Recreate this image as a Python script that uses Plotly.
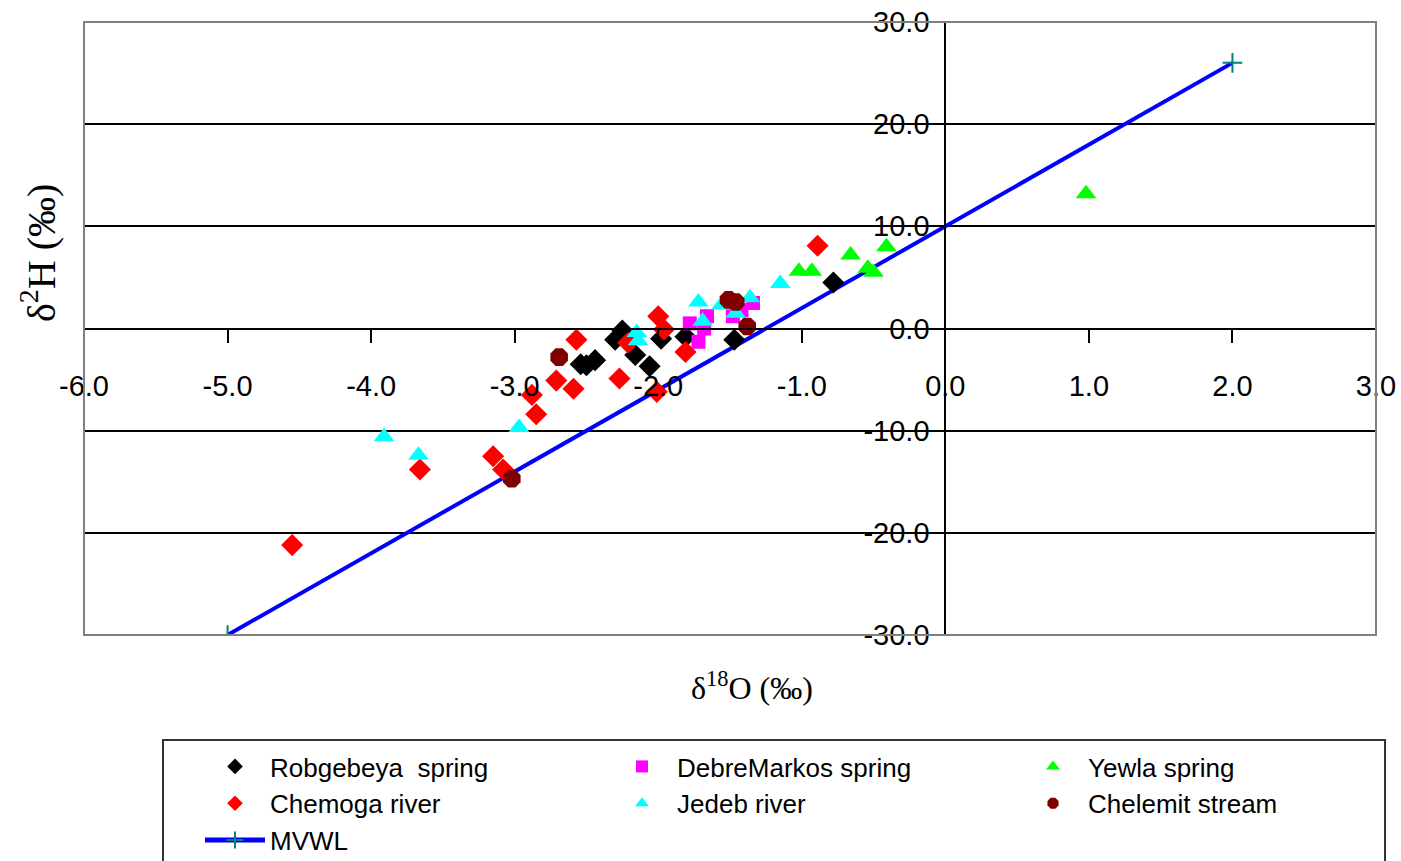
import plotly.graph_objects as go

# ---- data ----
rob_x = [-2.30, -2.25, -2.54, -2.50, -2.44, -2.16, -2.06, -1.98, -1.81, -1.47, -0.78]
rob_y = [-1.1, -0.2, -3.5, -3.6, -3.1, -2.6, -3.7, -1.0, -0.8, -1.1, 4.5]

debre_x = [-1.78, -1.66, -1.72, -1.68, -1.48, -1.42, -1.34]
debre_y = [0.5, 1.2, -1.3, 0.0, 1.2, 1.8, 2.5]

yewla_x = [-1.02, -0.93, -0.66, -0.54, -0.50, -0.41, 0.98]
yewla_y = [5.6, 5.6, 7.2, 5.9, 5.5, 8.0, 13.2]

chem_x = [-4.55, -3.66, -3.15, -3.08, -2.88, -2.85, -2.71, -2.59, -2.57, -2.27,
          -2.21, -2.01, -2.00, -1.96, -1.81, -0.89]
chem_y = [-21.2, -13.8, -12.5, -13.8, -6.5, -8.4, -5.1, -5.9, -1.1, -4.9,
          -1.4, -6.2, 1.2, -0.1, -2.3, 8.1]

jedeb_x = [-3.91, -3.67, -2.97, -2.15, -2.14, -1.72, -1.69, -1.56, -1.46, -1.36, -1.15]
jedeb_y = [-10.6, -12.4, -9.7, -0.4, -1.2, 2.6, 0.7, 2.3, 1.5, 3.0, 4.4]

chel_x = [-3.02, -2.69, -1.51, -1.46, -1.38]
chel_y = [-14.7, -2.8, 2.8, 2.6, 0.2]

mvwl_x = [-5.0, 2.0]
mvwl_y = [-30.0, 26.0]

x_ticks = [-6, -5, -4, -3, -2, -1, 0, 1, 2, 3]
x_ticklabels = ["-6.0", "-5.0", "-4.0", "-3.0", "-2.0", "-1.0", "0.0", "1.0", "2.0", "3.0"]
y_ticks = [-30, -20, -10, 0, 10, 20, 30]
y_ticklabels = ["-30.0", "-20.0", "-10.0", "0.0", "10.0", "20.0", "30.0"]

# ---- geometry helpers ----
W, H = 1401, 861
L, R, T, B = 84, 25, 22, 226
pw = W - L - R
ph = H - T - B


def px_x(p):
    return (p - L) / pw


def px_y(p):
    return (H - B - p) / ph


# ---- figure ----
fig = go.Figure()

fig.add_trace(go.Scatter(x=mvwl_x, y=mvwl_y, mode="lines+markers", name="MVWL",
                         line=dict(color="#0000ff", width=4),
                         marker=dict(symbol="cross-thin", size=14,
                                     line=dict(color="#008080", width=2)),
                         legend="legend", legendrank=3))

series = [
    ("Robgebeya\u00a0 spring", rob_x, rob_y, "diamond", "#000000", 17, "legend", 1),
    ("Chemoga river", chem_x, chem_y, "diamond", "#ff0000", 17, "legend", 2),
    ("DebreMarkos spring", debre_x, debre_y, "square", "#ff00ff", 14, "legend2", 1),
    ("Jedeb river", jedeb_x, jedeb_y, "triangle-up", "#00ffff", 18, "legend2", 2),
    ("Yewla spring", yewla_x, yewla_y, "triangle-up", "#00ff00", 18, "legend3", 1),
    ("Chelemit stream", chel_x, chel_y, "octagon", "#800000", 19, "legend3", 2),
]
for name, xs, ys, sym, col, sz, lg, rank in series:
    fig.add_trace(go.Scatter(x=xs, y=ys, mode="markers", name=name,
                             marker=dict(symbol=sym, color=col, size=sz,
                                         line=dict(width=0)),
                             legend=lg, legendrank=rank))

tick_font = dict(family="Arial, Liberation Sans, sans-serif", size=29, color="#000000")
leg_font = dict(family="Arial, Liberation Sans, sans-serif", size=26, color="#000000")


def leg(xpx):
    return dict(orientation="v", x=px_x(xpx), y=px_y(743),
                xanchor="left", yanchor="top",
                bgcolor="rgba(0,0,0,0)", borderwidth=0, itemwidth=60,
                font=leg_font, traceorder="normal", itemsizing="constant")


fig.update_layout(
    width=W, height=H,
    margin=dict(l=L, r=R, t=T, b=B, autoexpand=False),
    paper_bgcolor="white", plot_bgcolor="white",
    showlegend=True,
    xaxis=dict(range=[-6, 3], anchor="free", position=0.5,
               tickmode="array", tickvals=x_ticks, ticktext=x_ticklabels,
               showgrid=False, zeroline=False,
               showline=True, linecolor="#000000", linewidth=2,
               ticks="outside", ticklen=13, tickwidth=2, tickcolor="#000000",
               ticklabelstandoff=19,
               tickfont=tick_font),
    yaxis=dict(range=[-30, 30], anchor="free", position=6 / 9,
               tickmode="array", tickvals=y_ticks, ticktext=y_ticklabels,
               showgrid=True, gridcolor="#000000", gridwidth=2,
               zeroline=False,
               showline=True, linecolor="#000000", linewidth=2,
               ticks="outside", ticklen=9, tickwidth=2, tickcolor="#000000",
               tickfont=tick_font),
    legend=leg(200),
    legend2=leg(607),
    legend3=leg(1018),
    shapes=[
        dict(type="rect", xref="paper", yref="paper", x0=0, x1=1, y0=0, y1=1,
             line=dict(color="#808080", width=2), layer="above"),
        dict(type="rect", xref="paper", yref="paper",
             x0=px_x(163), x1=px_x(1385), y0=px_y(740), y1=px_y(875),
             line=dict(color="#333333", width=2), layer="below"),
    ],
    annotations=[
        dict(text="\u03b4<sup>18</sup>O (\u2030)", xref="paper", yref="paper",
             x=px_x(752), y=px_y(686), xanchor="center", yanchor="middle",
             showarrow=False,
             font=dict(family="Times New Roman, Liberation Serif, serif", size=32,
                       color="#000000")),
        dict(text="\u03b4<sup>2</sup>H (\u2030)", xref="paper", yref="paper",
             x=px_x(38), y=px_y(253), xanchor="center", yanchor="middle",
             showarrow=False, textangle=-90,
             font=dict(family="Times New Roman, Liberation Serif, serif", size=40,
                       color="#000000")),
    ],
)

fig.write_html("out.html")
